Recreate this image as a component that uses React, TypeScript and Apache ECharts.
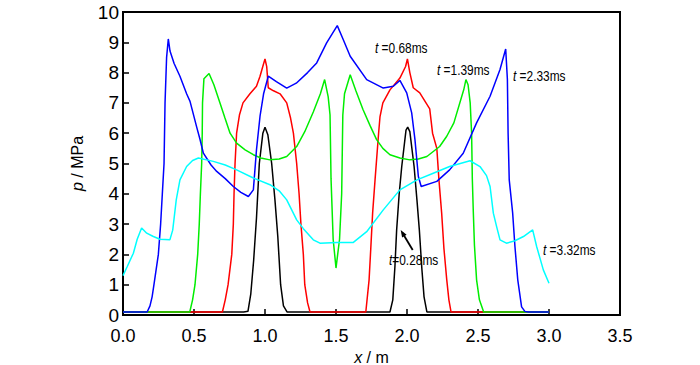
import React, { useEffect, useRef } from "react";
import * as echarts from "echarts";

// x (m), p (MPa) pairs
const t028: [number, number][] = [
  [0, 0.1], [0.85, 0.1], [0.88, 0.12], [0.9, 0.7], [0.92, 1.8], [0.94, 3.2], [0.96, 5.0], [0.985, 6.0],
  [1.0, 6.2], [1.02, 5.95], [1.047, 5.0], [1.07, 3.8], [1.09, 2.6], [1.11, 1.0], [1.13, 0.3], [1.155, 0.1],
  [1.88, 0.1], [1.9, 0.5], [1.915, 1.6], [1.927, 2.8], [1.945, 4.0], [1.963, 4.9], [1.993, 6.1], [2.005, 6.2],
  [2.02, 6.05], [2.05, 4.9], [2.07, 3.8], [2.087, 2.8], [2.105, 1.5], [2.12, 0.6], [2.14, 0.1], [3.0, 0.1],
];

const t068: [number, number][] = [
  [0, 0.1], [0.7, 0.1], [0.72, 0.5], [0.74, 1.0], [0.766, 2.0], [0.777, 3.0], [0.782, 4.0], [0.789, 5.0],
  [0.8, 6.0], [0.82, 6.6], [0.845, 7.0], [0.894, 7.3], [0.94, 7.55], [0.965, 7.88], [0.988, 8.26], [1.0, 8.45],
  [1.012, 8.2], [1.023, 7.5], [1.06, 7.4], [1.106, 7.3], [1.153, 7.0], [1.18, 6.5], [1.2, 6.0], [1.223, 5.0],
  [1.24, 4.0], [1.253, 3.0], [1.27, 2.0], [1.28, 1.0], [1.3, 0.4], [1.317, 0.1],
  [1.71, 0.1], [1.733, 1.16], [1.745, 2.2], [1.758, 3.37], [1.775, 4.46], [1.8, 6.0], [1.81, 6.55], [1.83, 7.0],
  [1.88, 7.43], [1.95, 7.82], [1.99, 8.2], [2.003, 8.45], [2.02, 8.0], [2.044, 7.5], [2.09, 7.33], [2.16, 6.8],
  [2.18, 6.0], [2.21, 5.5], [2.225, 4.46], [2.244, 3.37], [2.26, 2.2], [2.28, 1.16], [2.295, 0.5], [2.31, 0.1],
  [3.0, 0.1],
];

const t139: [number, number][] = [
  [0, 0.1], [0.47, 0.1], [0.49, 0.5], [0.507, 1.0], [0.526, 2.0], [0.537, 3.0], [0.545, 4.0], [0.554, 5.0],
  [0.558, 6.0], [0.56, 7.0], [0.57, 7.8], [0.606, 7.97], [0.64, 7.6], [0.683, 7.0], [0.718, 6.5], [0.754, 6.0],
  [0.8, 5.67], [0.86, 5.45], [0.918, 5.29], [0.97, 5.18], [1.035, 5.12], [1.1, 5.15], [1.153, 5.23], [1.223, 5.56],
  [1.28, 6.05], [1.34, 6.7], [1.39, 7.3], [1.42, 7.77], [1.445, 7.2], [1.458, 6.6], [1.465, 4.5], [1.48, 2.5],
  [1.5, 1.55], [1.525, 2.5], [1.54, 4.0], [1.548, 6.6], [1.56, 7.3], [1.6, 7.93], [1.64, 7.4], [1.69, 6.78],
  [1.74, 6.25], [1.786, 5.79], [1.83, 5.5], [1.88, 5.29], [1.95, 5.18], [2.02, 5.12], [2.08, 5.15], [2.14, 5.23],
  [2.23, 5.56], [2.28, 5.9], [2.33, 6.34], [2.4, 7.44], [2.415, 7.77], [2.43, 7.6], [2.445, 7.0], [2.455, 6.0],
  [2.46, 4.5], [2.467, 3.4], [2.475, 2.3], [2.49, 1.16], [2.51, 0.5], [2.54, 0.1], [3.0, 0.1],
];

const t233: [number, number][] = [
  [0, 0.1], [0.17, 0.1], [0.19, 0.3], [0.205, 0.6], [0.218, 1.0], [0.249, 2.0], [0.265, 3.0], [0.277, 4.0],
  [0.289, 5.0], [0.296, 7.0], [0.307, 8.5], [0.319, 9.11], [0.331, 8.71], [0.36, 8.3], [0.401, 7.88], [0.448, 7.3],
  [0.472, 7.05], [0.519, 6.2], [0.542, 5.8], [0.566, 5.34], [0.62, 4.95], [0.66, 4.74], [0.72, 4.5], [0.777, 4.24],
  [0.83, 4.05], [0.883, 3.91], [0.918, 4.13], [0.94, 5.45], [0.965, 6.56], [0.99, 7.3], [1.023, 7.88], [1.08, 7.7],
  [1.153, 7.49], [1.22, 7.65], [1.3, 8.0], [1.364, 8.32], [1.434, 8.98], [1.509, 9.55], [1.55, 9.1], [1.6, 8.54],
  [1.716, 7.77], [1.833, 7.49], [1.904, 7.55], [1.95, 7.74], [1.998, 7.33], [2.033, 6.67], [2.056, 5.79], [2.08, 4.57],
  [2.1, 4.24], [2.21, 4.41], [2.3, 4.79], [2.396, 5.34], [2.49, 6.34], [2.585, 7.22], [2.655, 8.1], [2.695, 8.78],
  [2.707, 7.77], [2.712, 6.0], [2.72, 4.46], [2.744, 3.37], [2.76, 2.27], [2.78, 1.16], [2.807, 0.27], [2.83, 0.12],
  [2.854, 0.1], [3.0, 0.1],
];

const t332: [number, number][] = [
  [0, 1.3], [0.03, 1.6], [0.073, 2.04], [0.1, 2.5], [0.131, 2.87], [0.167, 2.7], [0.21, 2.6], [0.26, 2.5],
  [0.33, 2.48], [0.35, 2.8], [0.36, 3.2], [0.375, 3.8], [0.401, 4.46], [0.448, 4.9], [0.49, 5.1], [0.531, 5.18],
  [0.636, 5.07], [0.72, 4.95], [0.8, 4.79], [0.918, 4.52], [1.035, 4.3], [1.1, 4.1], [1.153, 3.8], [1.223, 3.14],
  [1.27, 2.85], [1.34, 2.48], [1.387, 2.37], [1.505, 2.39], [1.62, 2.39], [1.716, 2.75], [1.833, 3.47], [1.95, 4.13],
  [2.07, 4.46], [2.185, 4.68], [2.3, 4.9], [2.444, 5.09], [2.514, 4.9], [2.56, 4.6], [2.585, 4.24], [2.608, 3.36],
  [2.632, 2.9], [2.655, 2.48], [2.7, 2.37], [2.76, 2.45], [2.82, 2.59], [2.885, 2.81], [2.913, 2.26], [2.96, 1.49],
  [3.0, 1.05],
];

const seriesNames = ["t=0.28ms", "t=0.68ms", "t=1.39ms", "t=2.33ms", "t=3.32ms"];
const seriesData = [t028, t068, t139, t233, t332];
const seriesColors = ["#000000", "#ff0000", "#00ee00", "#0000ff", "#00ffff"];

const FONT = "'Liberation Sans', Arial, Helvetica, sans-serif";

function label(x: number, y: number, t: string, rest: string) {
  return {
    type: "text",
    x,
    y,
    scaleX: 0.85,
    style: {
      text: `{i|${t}}{n|${rest}}`,
      textVerticalAlign: "middle",
      verticalAlign: "middle",
      rich: {
        i: { fontStyle: "italic", fontSize: 14, fontFamily: FONT, fill: "#000" },
        n: { fontSize: 14, fontFamily: FONT, fill: "#000" },
      },
    },
  };
}

export default function App() {
  const ref = useRef<HTMLDivElement>(null);
  useEffect(() => {
    if (!ref.current) return;
    const chart = echarts.init(ref.current, undefined, { renderer: "svg" });
    const axisCommon = {
      axisLine: { show: true, onZero: false, lineStyle: { color: "#000", width: 2 } },
      axisTick: { show: true, inside: true, length: 6, lineStyle: { color: "#000", width: 1.5 } },
      splitLine: { show: false },
    };
    chart.setOption({
      animation: false,
      grid: {
        left: 123,
        right: 80,
        top: 12,
        bottom: 50,
        containLabel: false,
        outerBoundsMode: "none",
        show: true,
        borderColor: "#000",
        borderWidth: 2,
      },
      xAxis: {
        type: "value",
        min: 0,
        max: 3.5,
        interval: 0.5,
        ...axisCommon,
        axisLabel: {
          color: "#000",
          fontSize: 18,
          fontFamily: FONT,
          margin: 12,
          formatter: (v: number) => v.toFixed(1),
        },
        name: "{i|x} / m",
        nameLocation: "middle",
        nameGap: 29,
        nameTextStyle: {
          color: "#000",
          fontSize: 16,
          fontFamily: FONT,
          rich: { i: { fontStyle: "italic", fontSize: 16, fontFamily: FONT, color: "#000" } },
        },
      },
      yAxis: {
        type: "value",
        min: 0,
        max: 10,
        interval: 1,
        ...axisCommon,
        axisLabel: { color: "#000", fontSize: 19, fontFamily: FONT, margin: 4 },
        name: "{i|p} / MPa",
        nameLocation: "middle",
        nameRotate: 90,
        nameGap: 38,
        nameTextStyle: {
          color: "#000",
          fontSize: 16,
          fontFamily: FONT,
          rich: { i: { fontStyle: "italic", fontSize: 16, fontFamily: FONT, color: "#000" } },
        },
      },
      series: seriesData.map((d, i) => ({
        name: seriesNames[i],
        type: "line",
        data: d,
        showSymbol: false,
        symbol: "none",
        lineStyle: { color: seriesColors[i], width: 1.5 },
        itemStyle: { color: seriesColors[i] },
        z: 2 + i,
      })),
      graphic: [
        label(375, 48, "t", " =0.68ms"),
        label(437, 70, "t", " =1.39ms"),
        label(513, 76, "t", " =2.33ms"),
        label(543, 250, "t", " =3.32ms"),
        label(389, 260, "t", "=0.28ms"),
        {
          type: "line",
          shape: { x1: 412.7, y1: 250, x2: 402.5, y2: 233 },
          style: { stroke: "#000", lineWidth: 1.8 },
          z: 100,
        },
        {
          type: "polygon",
          shape: { points: [[400.7, 230], [406.6, 234.7], [402.1, 237.5]] },
          style: { fill: "#000" },
          z: 100,
        },
      ],
    });
    return () => chart.dispose();
  }, []);
  return (
    <div
      ref={ref}
      style={{ position: "fixed", left: 0, top: 0, width: 700, height: 365, background: "#fff" }}
    />
  );
}
